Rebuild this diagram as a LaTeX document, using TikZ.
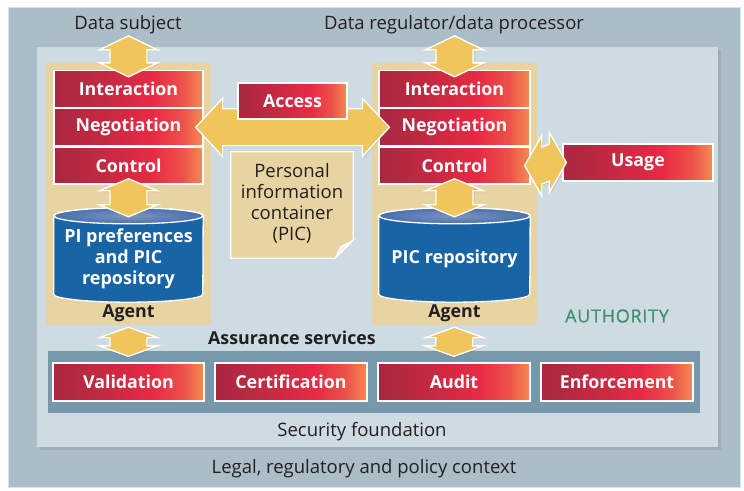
\documentclass[tikz,border=0pt]{standalone}
\usepackage{fontspec}
\setmainfont{Open Sans}
\usetikzlibrary{positioning,calc,shadows}

\definecolor{legalbg}{RGB}{171,189,199}
\definecolor{secbg}{RGB}{207,219,226}
\definecolor{agenttan}{RGB}{232,212,163}
\definecolor{bandblue}{RGB}{118,152,170}
\definecolor{cylblue}{RGB}{24,100,165}
\definecolor{cyllight}{RGB}{96,120,178}
\definecolor{arrowyel}{RGB}{240,197,92}
\definecolor{redL}{RGB}{168,40,64}
\definecolor{redM}{RGB}{232,42,68}
\definecolor{redR}{RGB}{245,140,82}
\definecolor{authgreen}{RGB}{64,142,110}
\definecolor{ink}{RGB}{35,31,32}

\pgfdeclarehorizontalshading{redbar}{100bp}{color(0bp)=(redL); color(25bp)=(redL);
  color(40bp)=(redL!60!redM); color(58bp)=(redM); color(68bp)=(redM!60!redR); color(75bp)=(redR); color(100bp)=(redR)}

\tikzset{
  lbl/.style={text=ink, inner sep=0pt, font=\fontsize{18.5}{20}\selectfont},
  boldlbl/.style={lbl, font=\bfseries\fontsize{17.8}{20}\selectfont},
  redbox/.style={shade, shading=redbar, draw=white, line width=1.3pt, text=white,
    minimum height=37pt, inner sep=0pt, font=\bfseries\fontsize{17.8}{20}\selectfont},
  agentbox/.style={fill=agenttan, minimum width=165pt, minimum height=262pt, inner sep=0pt},
  cylbody/.style={fill=cylblue, draw=white, line width=1.3pt},
  cyltop/.style={inner color=cyllight!80!white, outer color=cyllight!65!cylblue, draw=white, line width=1.3pt},
  cyltext/.style={text=white, align=center, inner sep=0pt, font=\bfseries\fontsize{18}{21}\selectfont},
  fatarrow/.style={fill=arrowyel, draw=white, line width=1.3pt, line join=miter,
    drop shadow={shadow xshift=1.5pt, shadow yshift=-1.5pt, opacity=0.18}},
}

% vertical double block arrow: top tip, bottom tip, head length
\newcommand{\vfat}[3]{%
  \filldraw[fatarrow] (#1) -- ++(29,#3) -- ++(-10.5,0) -- ($(#2)+(18.5,-#3)$) -- ++(10.5,0)
    -- (#2) -- ++(-29,-#3) -- ++(10.5,0) -- ($(#1)+(-18.5,#3)$) -- ++(-10.5,0) -- cycle;}
% horizontal double block arrow: left tip, right tip, head length, half head width
\newcommand{\hfat}[4]{%
  \filldraw[fatarrow] (#1) -- ++(#3,-#4) -- ++(0,{#4-18.5}) -- ($(#2)+(-#3,-18.5)$) -- ++(0,{18.5-#4})
    -- (#2) -- ++(-#3,#4) -- ++(0,{18.5-#4}) -- ($(#1)+(#3,18.5)$) -- ++(0,{#4-18.5}) -- cycle;}

\begin{document}
\begin{tikzpicture}[x=1pt,y=-1pt]
  \useasboundingbox (0,0) rectangle (744,490);
  \fill[white] (0,0) rectangle (744,490);

  % context and foundation panels
  \filldraw[fill=legalbg, draw=white!55!legalbg, line width=1pt] (8,7) rectangle (740,487);
  \fill[secbg, drop shadow={shadow xshift=3pt, shadow yshift=-3pt, opacity=0.25}] (37,47) rectangle (718,447);

  \node[lbl] (subj) at (128,25) {Data subject};
  \node[lbl] (proc) at (454,25) {Data regulator/data processor};
  \node[lbl] (secur) at (362,432) {Security foundation};
  \node[lbl] (legal) at (364,469) {Legal, regulatory and policy context};

  % the two agents
  \node[agentbox] (agent1) at (128.5,194) {};
  \node[agentbox] (agent2) at (454.5,194) {};
  \node[boldlbl] (ag1) at (128.5,313) {Agent};
  \node[boldlbl] (ag2) at (454.5,313) {Agent};

  \node[redbox, minimum width=149pt] (int1) at (128.5,89) {Interaction};
  \node[redbox, minimum width=149pt, below=0pt of int1] (neg1) {Negotiation};
  \node[redbox, minimum width=149pt, below=0pt of neg1] (ctl1) {Control};

  \node[redbox, minimum width=151pt] (int2) at (454.5,89) {Interaction};
  \node[redbox, minimum width=151pt, below=0pt of int2] (neg2) {Negotiation};
  \node[redbox, minimum width=151pt, below=0pt of neg2] (ctl2) {Control};

  \node[redbox, minimum width=150pt] (usage) at (638,162.5) {Usage};

  % repositories
  \node[minimum width=149pt, minimum height=86pt, inner sep=0pt] (pref) at (128.5,259) {};
  \filldraw[cylbody] (pref.north west) -- ($(pref.south west)+(0,-8)$)
    arc[start angle=180, end angle=0, x radius=74.5, y radius=8] -- (pref.north east)
    arc[start angle=0, end angle=-180, x radius=74.5, y radius=8] -- cycle;
  \filldraw[cyltop] (pref.north) ellipse[x radius=74.5, y radius=8];
  \node[cyltext] (prefl) at (pref) {PI preferences\\and PIC\\repository};

  \node[minimum width=151pt, minimum height=86pt, inner sep=0pt] (repo) at (454.5,259) {};
  \filldraw[cylbody] (repo.north west) -- ($(repo.south west)+(0,-8)$)
    arc[start angle=180, end angle=0, x radius=75.5, y radius=8] -- (repo.north east)
    arc[start angle=0, end angle=-180, x radius=75.5, y radius=8] -- cycle;
  \filldraw[cyltop] (repo.north) ellipse[x radius=75.5, y radius=8];
  \node[cyltext] (repol) at (repo) {PIC repository};

  % personal information container
  \node[minimum width=122pt, minimum height=106pt, inner sep=0pt] (pic) at (292,205) {};
  \filldraw[fill=agenttan, draw=white, line width=1.3pt] (pic.north west) -- (pic.north east)
    -- ($(pic.south east)+(0,-18)$) -- ($(pic.south east)+(-18,0)$) -- (pic.south west) -- cycle;
  \filldraw[fill=white!75!agenttan, draw=white, line width=1pt] ($(pic.south east)+(0,-18)$)
    -- ($(pic.south east)+(-18,0)$) -- ($(pic.south east)+(-13,-11)$) -- cycle;
  \node[lbl, align=center, font=\fontsize{18.5}{21}\selectfont] (picl) at (292,203)
    {Personal\\information\\container\\(PIC)};

  % assurance services
  \node[boldlbl] (assur) at (292,338) {Assurance services};
  \node[text=authgreen, inner sep=0pt, font=\fontsize{18}{20}\selectfont\addfontfeature{LetterSpace=4,FakeBold=0.6}]
    (auth) at (617,316) {AUTHORITY};
  \node[fill=bandblue, minimum width=652pt, minimum height=62pt, inner sep=0pt] (band) at (374,382) {};
  \node[redbox, minimum width=151pt, minimum height=38pt] (valid) at (128.5,382) {Validation};
  \node[redbox, minimum width=152pt, minimum height=38pt] (cert) at (291,382) {Certification};
  \node[redbox, minimum width=152pt, minimum height=38pt] (audit) at (454,382) {Audit};
  \node[redbox, minimum width=152pt, minimum height=38pt] (enforce) at (617,382) {Enforcement};

  % block arrows
  \vfat{$(int1.north)+(0,-34)$}{$(int1.north)+(0,7)$}{14}
  \vfat{$(int2.north)+(0,-34)$}{$(int2.north)+(0,7)$}{14}
  \vfat{$(ctl1.south)+(0,-6)$}{$(pref.north)+(0,1)$}{12}
  \vfat{$(ctl2.south)+(0,-6)$}{$(repo.north)+(0,1)$}{12}
  \vfat{$(agent1.south)+(0,2)$}{$(valid.north)+(0,-6)$}{10.5}
  \vfat{$(agent2.south)+(0,2)$}{$(audit.north)+(0,-6)$}{10.5}
  \hfat{$(neg1.east)+(-8,0)$}{$(neg2.west)+(11,0)$}{27}{29}
  \hfat{$(ctl2.east)+(-6,0)$}{$(usage.west)+(4,0)$}{17}{30}

  \node[redbox, minimum width=109pt, minimum height=36pt] (access) at (292.5,101) {Access};
\end{tikzpicture}
\end{document}
